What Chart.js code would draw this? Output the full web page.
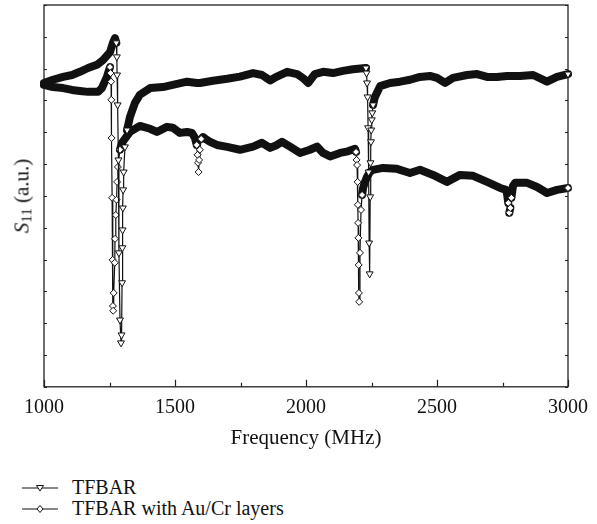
<!DOCTYPE html>
<html>
<head>
<meta charset="utf-8">
<script src="https://cdn.jsdelivr.net/npm/chart.js@4.4.0/dist/chart.umd.min.js"></script>
<style>
  html, body { margin: 0; padding: 0; background: #ffffff; }
  #wrap { position: relative; width: 597px; height: 524px; overflow: hidden; }
  #c { position: absolute; left: 0; top: 0; }
  .ytitle { position: absolute; left: 22px; top: 196px; transform: translate(-50%, -50%) rotate(-90deg);
            font-family: "Liberation Serif", serif; font-size: 21px; color: #111; white-space: nowrap; }
  .ytitle sub { font-size: 15px; vertical-align: -3px; line-height: 0; }
  .legend { position: absolute; left: 22px; top: 477px; font-family: "Liberation Serif", serif; font-size: 20px; color: #111; }
  .row { display: flex; align-items: center; height: 21px; }
  .row svg { margin-right: 14px; display: block; }
</style>
</head>
<body>
<div id="wrap">
  <canvas id="c" width="597" height="460"></canvas>
  <div class="ytitle"><i>S</i><sub>11</sub> (a.u.)</div>
  <div class="legend">
    <div class="row"><svg width="36" height="12"><line x1="0" y1="6" x2="36" y2="6" stroke="#111" stroke-width="1.2"/><polygon points="14.5,3.5 21.5,3.5 18,9" fill="#fff" stroke="#111" stroke-width="1"/></svg><span>TFBAR</span></div>
    <div class="row"><svg width="36" height="12"><line x1="0" y1="6" x2="36" y2="6" stroke="#111" stroke-width="1.2"/><polygon points="18,2.5 21,6 18,9.5 15,6" fill="#fff" stroke="#111" stroke-width="1"/></svg><span>TFBAR with Au/Cr layers</span></div>
  </div>
</div>
<script>
// ---- data ----
const seriesNames = ['TFBAR', 'TFBAR with Au/Cr layers'];
const xTickLabels = [1000, 1500, 2000, 2500, 3000];

const tfbarFreq = [1000,1034,1073,1107,1137,1168,1202,1225,1252,1263,
  1271,1276,1278,1279,1281,1284,1286,1290,1294,1296,
  1298,1299,1300,1301,1302,1304,1309,1317,1328,1347,
  1366,1405,1454,1508,1546,1584,1595,1645,1699,1748,
  1798,1832,1863,1889,1928,1966,1989,2008,2034,2065,
  2103,2141,2179,2218,2229,2231,2233,2235,2237,2239,
  2241,2243,2245,2246,2248,2249,2251,2253,2256,2263,
  2283,2321,2359,2397,2435,2473,2500,2531,2561,2615,
  2653,2691,2729,2767,2817,2867,2920,2958,3000];
const tfbarVal = [9.55,9.65,9.74,9.80,9.90,10.02,10.12,10.27,10.52,10.81,
  10.96,10.81,10.37,9.80,8.86,7.13,4.21,2.10,1.38,1.63,
  3.27,4.37,4.93,5.62,6.19,6.75,7.54,8.07,8.48,8.92,
  9.18,9.39,9.42,9.52,9.59,9.55,9.55,9.62,9.68,9.75,
  9.86,9.80,9.63,9.75,9.90,9.83,9.70,9.55,9.83,9.90,
  9.86,9.93,9.98,10.01,10.02,9.86,9.55,9.11,8.14,6.75,
  4.52,3.55,5.97,7.04,7.70,8.07,8.39,8.61,8.86,9.11,
  9.45,9.55,9.59,9.65,9.74,9.77,9.71,9.55,9.71,9.80,
  9.83,9.74,9.74,9.77,9.77,9.80,9.59,9.74,9.83];

const aucrFreq = [1000,1034,1073,1107,1137,1168,1206,1221,1240,1252,
  1254,1256,1257,1258,1260,1262,1263,1264,1266,1270,
  1271,1274,1277,1279,1282,1290,1298,1328,1366,1405,
  1431,1469,1492,1519,1546,1565,1576,1583,1586,1588,
  1590,1592,1595,1600,1607,1622,1634,1660,1699,1748,
  1798,1832,1863,1889,1908,1939,1977,2015,2042,2065,
  2092,2130,2160,2187,2191,2193,2195,2197,2198,2199,
  2200,2201,2202,2203,2206,2210,2214,2218,2225,2233,
  2244,2256,2294,2347,2397,2435,2485,2538,2588,2638,
  2691,2741,2764,2768,2772,2776,2780,2784,2790,2798,
  2844,2882,2920,2958,3000];
const aucrVal = [9.49,9.42,9.39,9.33,9.30,9.27,9.27,9.39,9.74,10.05,
  9.86,9.59,9.02,7.82,5.94,3.99,2.54,2.39,2.95,3.90,
  4.65,5.40,5.88,6.44,6.91,7.45,7.67,8.01,8.20,8.11,
  8.01,8.17,8.14,7.98,8.01,7.98,7.82,7.60,7.29,7.04,
  6.75,7.13,7.45,7.79,7.85,7.76,7.70,7.60,7.54,7.45,
  7.55,7.67,7.51,7.60,7.70,7.55,7.35,7.45,7.55,7.35,
  7.24,7.35,7.40,7.48,7.38,7.13,6.97,6.44,5.72,5.15,
  4.68,3.83,2.95,2.67,4.21,5.56,6.03,6.25,6.44,6.60,
  6.75,6.82,6.88,6.85,6.72,6.82,6.66,6.44,6.66,6.63,
  6.44,6.25,6.19,6.03,5.78,5.47,5.62,5.94,6.31,6.41,
  6.41,6.28,6.09,6.19,6.25];

// ---- rendering ----
const STEEP = 8;
const BAND = 8;

function steepPix(x0, y0, x1, y1) {
  return Math.abs(y1 - y0) > STEEP * Math.max(Math.abs(x1 - x0), 0.001);
}
function steepAt(chart, fr, va, i, j) {
  if (j < 0 || j >= fr.length) return false;
  const sx = chart.scales.x, sy = chart.scales.y;
  return steepPix(sx.getPixelForValue(fr[i]), sy.getPixelForValue(va[i]),
                  sx.getPixelForValue(fr[j]), sy.getPixelForValue(va[j]));
}
function markerVisible(ctx, fr, va) {
  const i = ctx.dataIndex;
  if (i === fr.length - 1) return true;
  return steepAt(ctx.chart, fr, va, i, i - 1) || steepAt(ctx.chart, fr, va, i, i + 1);
}
function toPoints(fr, va) { return fr.map((f, i) => ({ x: f, y: va[i] })); }

function makeDataset(label, fr, va, style, rot, r) {
  return {
    label: label,
    data: toPoints(fr, va),
    borderColor: '#111',
    borderWidth: 1.2,
    borderJoinStyle: 'round',
    borderCapStyle: 'round',
    tension: 0,
    fill: false,
    clip: false,
    pointStyle: style,
    pointRotation: rot,
    pointBackgroundColor: '#ffffff',
    pointBorderColor: '#111',
    pointBorderWidth: 1,
    pointRadius: ctx => markerVisible(ctx, fr, va) ? r : 0,
    pointHoverRadius: ctx => markerVisible(ctx, fr, va) ? r : 0,
    segment: {
      borderWidth: ctx => steepPix(ctx.p0.x, ctx.p0.y, ctx.p1.x, ctx.p1.y) ? 1.2 : BAND
    }
  };
}

const framePlugin = {
  id: 'frame',
  beforeDatasetsDraw(chart) {
    const { ctx, chartArea: a, scales: { x, y } } = chart;
    ctx.save();
    ctx.strokeStyle = '#222';
    ctx.lineWidth = 1.3;
    ctx.strokeRect(a.left, a.top, a.right - a.left, a.bottom - a.top);
    ctx.lineWidth = 1.2;
    ctx.beginPath();
    x.ticks.forEach(t => {
      const px = Math.round(x.getPixelForValue(t.value)) + 0.5;
      const len = xTickLabels.includes(t.value) ? 7 : 4;
      ctx.moveTo(px, a.bottom); ctx.lineTo(px, a.bottom - len);
    });
    y.ticks.forEach(t => {
      const py = Math.round(y.getPixelForValue(t.value)) + 0.5;
      ctx.moveTo(a.left, py); ctx.lineTo(a.left + 3, py);
      ctx.moveTo(a.right, py); ctx.lineTo(a.right - 3, py);
    });
    ctx.stroke();
    ctx.restore();
  }
};

Chart.defaults.font.family = "'Liberation Serif', serif";
Chart.defaults.color = '#111';

new Chart(document.getElementById('c'), {
  type: 'line',
  data: {
    datasets: [
      makeDataset(seriesNames[0], tfbarFreq, tfbarVal, 'triangle', 180, 4),
      makeDataset(seriesNames[1], aucrFreq, aucrVal, 'rectRot', 0, 3.5)
    ]
  },
  options: {
    responsive: false,
    animation: false,
    events: [],
    layout: { padding: { left: 44, right: 29, top: 5, bottom: 9 } },
    plugins: { legend: { display: false }, tooltip: { enabled: false } },
    scales: {
      x: {
        type: 'linear', min: 1000, max: 3000,
        grid: { display: false, drawTicks: false, tickLength: 0 },
        border: { display: false },
        ticks: {
          stepSize: 250, autoSkip: false, maxRotation: 0, padding: 9,
          font: { size: 20 }, color: '#111',
          callback: v => xTickLabels.includes(v) ? String(v) : ''
        },
        title: { display: true, text: 'Frequency (MHz)', font: { size: 21 }, color: '#111', padding: { top: -3, bottom: 0 } }
      },
      y: {
        type: 'linear', min: 0, max: 12,
        grid: { display: false, drawTicks: false, tickLength: 0 },
        border: { display: false },
        ticks: { stepSize: 1, display: false }
      }
    }
  },
  plugins: [framePlugin]
});
</script>
</body>
</html>
